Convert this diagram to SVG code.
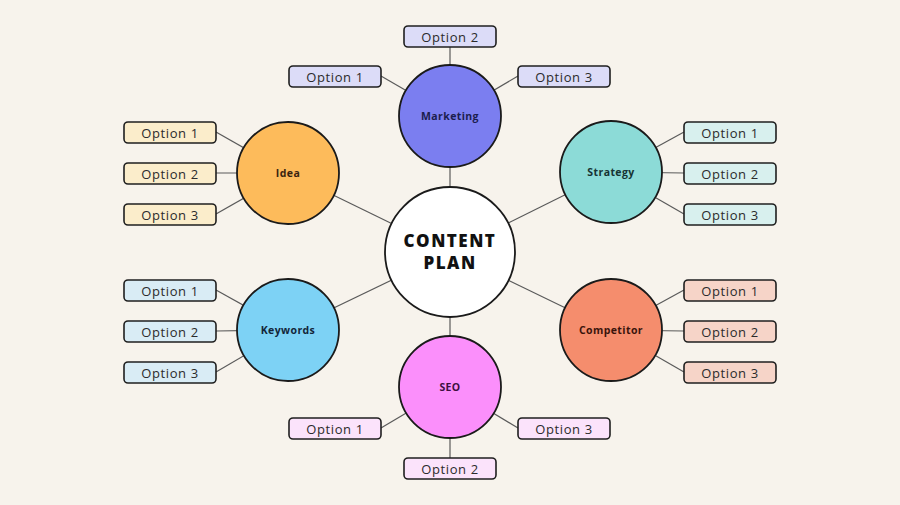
<svg xmlns="http://www.w3.org/2000/svg" width="900" height="505" viewBox="0 0 900 505">
<style>
.bg{fill:#f7f3ec}
.ln{stroke:#5a5a5a;stroke-width:1.2;fill:none}
.node{stroke:#1a1a1a;stroke-width:1.8}
.opt{stroke:#1f1f1f;stroke-width:1.6}
.ot{font-family:"Open Sans","Noto Sans",sans-serif;font-size:13px;fill:#2b2b2b;text-anchor:middle;dominant-baseline:central;letter-spacing:0.6px}
.nt{font-family:"Open Sans","Noto Sans",sans-serif;font-size:10.5px;font-weight:bold;text-anchor:middle;dominant-baseline:central;letter-spacing:0.4px}
.ct{font-family:"Open Sans","Noto Sans",sans-serif;font-size:17px;font-weight:800;fill:#111;text-anchor:middle;letter-spacing:1.5px}
.mk{fill:#dcdcf8}.id{fill:#fbedcb}.st{fill:#d8f0ee}.cp{fill:#f6d4c8}.kw{fill:#d9ecf5}.se{fill:#fbe3fb}
</style>
<rect class="bg" x="0" y="0" width="900" height="505"/>
<g id="connectors">
<line class="ln" x1="450" y1="252" x2="450" y2="116"/>
<line class="ln" x1="450" y1="252" x2="450" y2="387"/>
<line class="ln" x1="450" y1="252" x2="288" y2="173"/>
<line class="ln" x1="450" y1="252" x2="611" y2="172"/>
<line class="ln" x1="450" y1="252" x2="288" y2="330"/>
<line class="ln" x1="450" y1="252" x2="611" y2="330"/>
<line class="ln" x1="381" y1="76" x2="450" y2="116"/>
<line class="ln" x1="450" y1="47" x2="450" y2="116"/>
<line class="ln" x1="518" y1="76" x2="450" y2="116"/>
<line class="ln" x1="216" y1="132" x2="288" y2="173"/>
<line class="ln" x1="216" y1="173" x2="288" y2="173"/>
<line class="ln" x1="216" y1="214" x2="288" y2="173"/>
<line class="ln" x1="684" y1="132" x2="611" y2="172"/>
<line class="ln" x1="684" y1="173" x2="611" y2="172"/>
<line class="ln" x1="684" y1="214" x2="611" y2="172"/>
<line class="ln" x1="216" y1="290" x2="288" y2="330"/>
<line class="ln" x1="216" y1="331" x2="288" y2="330"/>
<line class="ln" x1="216" y1="372" x2="288" y2="330"/>
<line class="ln" x1="684" y1="290" x2="611" y2="330"/>
<line class="ln" x1="684" y1="331" x2="611" y2="330"/>
<line class="ln" x1="684" y1="372" x2="611" y2="330"/>
<line class="ln" x1="381" y1="428" x2="450" y2="387"/>
<line class="ln" x1="450" y1="458" x2="450" y2="387"/>
<line class="ln" x1="518" y1="428" x2="450" y2="387"/>
</g>
<g id="center">
<circle class="node" cx="450" cy="252" r="65" fill="#ffffff"/>
<text class="ct" x="450" y="247">CONTENT</text>
<text class="ct" x="450" y="269">PLAN</text>
</g>
<g id="marketing">
<circle class="node" cx="450" cy="116" r="51" fill="#7b7ef0"/>
<text class="nt" x="450" y="116" fill="#1b1d4e">Marketing</text>
</g>
<g id="idea">
<circle class="node" cx="288" cy="173" r="51" fill="#fdbb5b"/>
<text class="nt" x="288" y="173" fill="#3a2410">Idea</text>
</g>
<g id="strategy">
<circle class="node" cx="611" cy="172" r="51" fill="#8cdbd7"/>
<text class="nt" x="611" y="172" fill="#163433">Strategy</text>
</g>
<g id="keywords">
<circle class="node" cx="288" cy="330" r="51" fill="#7dd2f5"/>
<text class="nt" x="288" y="330" fill="#13263a">Keywords</text>
</g>
<g id="competitor">
<circle class="node" cx="611" cy="330" r="51" fill="#f58d6d"/>
<text class="nt" x="611" y="330" fill="#3a140c">Competitor</text>
</g>
<g id="seo">
<circle class="node" cx="450" cy="387" r="51" fill="#fb8ffb"/>
<text class="nt" x="450" y="387" fill="#3d0f3f">SEO</text>
</g>
<g id="marketing-option1"><rect class="opt mk" x="289" y="66" width="92" height="21" rx="4"/><text class="ot" x="335" y="76.5">Option 1</text></g>
<g id="marketing-option2"><rect class="opt mk" x="404" y="26" width="92" height="21" rx="4"/><text class="ot" x="450" y="36.5">Option 2</text></g>
<g id="marketing-option3"><rect class="opt mk" x="518" y="66" width="92" height="21" rx="4"/><text class="ot" x="564" y="76.5">Option 3</text></g>
<g id="idea-option1"><rect class="opt id" x="124" y="122" width="92" height="21" rx="4"/><text class="ot" x="170" y="132.5">Option 1</text></g>
<g id="idea-option2"><rect class="opt id" x="124" y="163" width="92" height="21" rx="4"/><text class="ot" x="170" y="173.5">Option 2</text></g>
<g id="idea-option3"><rect class="opt id" x="124" y="204" width="92" height="21" rx="4"/><text class="ot" x="170" y="214.5">Option 3</text></g>
<g id="strategy-option1"><rect class="opt st" x="684" y="122" width="92" height="21" rx="4"/><text class="ot" x="730" y="132.5">Option 1</text></g>
<g id="strategy-option2"><rect class="opt st" x="684" y="163" width="92" height="21" rx="4"/><text class="ot" x="730" y="173.5">Option 2</text></g>
<g id="strategy-option3"><rect class="opt st" x="684" y="204" width="92" height="21" rx="4"/><text class="ot" x="730" y="214.5">Option 3</text></g>
<g id="keywords-option1"><rect class="opt kw" x="124" y="280" width="92" height="21" rx="4"/><text class="ot" x="170" y="290.5">Option 1</text></g>
<g id="keywords-option2"><rect class="opt kw" x="124" y="321" width="92" height="21" rx="4"/><text class="ot" x="170" y="331.5">Option 2</text></g>
<g id="keywords-option3"><rect class="opt kw" x="124" y="362" width="92" height="21" rx="4"/><text class="ot" x="170" y="372.5">Option 3</text></g>
<g id="competitor-option1"><rect class="opt cp" x="684" y="280" width="92" height="21" rx="4"/><text class="ot" x="730" y="290.5">Option 1</text></g>
<g id="competitor-option2"><rect class="opt cp" x="684" y="321" width="92" height="21" rx="4"/><text class="ot" x="730" y="331.5">Option 2</text></g>
<g id="competitor-option3"><rect class="opt cp" x="684" y="362" width="92" height="21" rx="4"/><text class="ot" x="730" y="372.5">Option 3</text></g>
<g id="seo-option1"><rect class="opt se" x="289" y="418" width="92" height="21" rx="4"/><text class="ot" x="335" y="428.5">Option 1</text></g>
<g id="seo-option2"><rect class="opt se" x="404" y="458" width="92" height="21" rx="4"/><text class="ot" x="450" y="468.5">Option 2</text></g>
<g id="seo-option3"><rect class="opt se" x="518" y="418" width="92" height="21" rx="4"/><text class="ot" x="564" y="428.5">Option 3</text></g>
</svg>
